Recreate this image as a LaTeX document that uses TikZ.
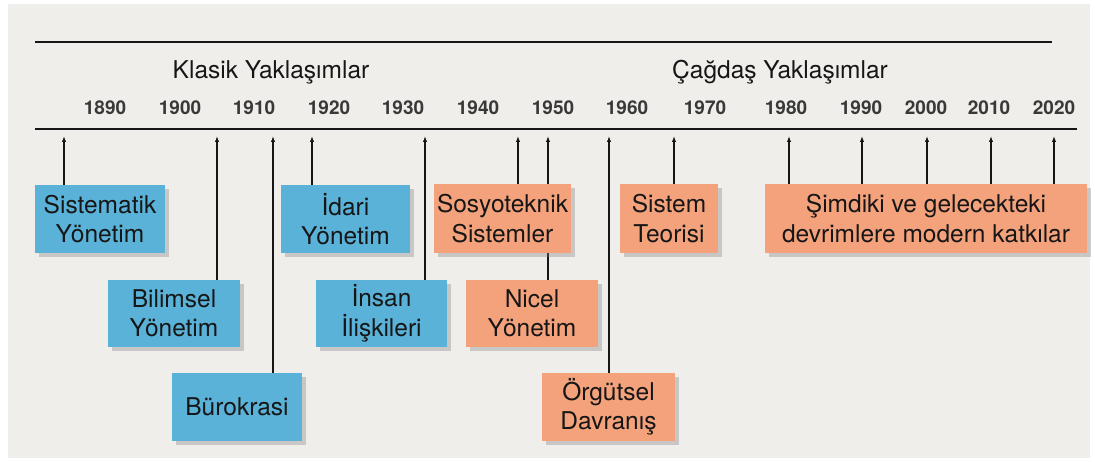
\documentclass[tikz,border=0pt]{standalone}
\usepackage{fontspec}
\setmainfont{TeX Gyre Heros}
\usetikzlibrary{arrows.meta,shadows,backgrounds}
\definecolor{panel}{RGB}{240,238,234}
\definecolor{klasik}{RGB}{90,178,216}
\definecolor{cagdas}{RGB}{244,162,124}
\definecolor{ink}{RGB}{22,22,22}
\tikzset{
	kutu/.style={inner sep=0pt, align=center, text=ink, font=\fontsize{24.5}{29.5}\selectfont,
		drop shadow={shadow xshift=4pt, shadow yshift=-4pt, opacity=0.35}},
	klasikkutu/.style={kutu, fill=klasik},
	cagdaskutu/.style={kutu, fill=cagdas},
	ok/.style={line width=1.6pt, draw=ink, -{Latex[length=6pt,width=4.5pt]}},
	yil/.style={text=ink!85, font=\bfseries\fontsize{19}{19}\selectfont},
	baslik/.style={text=ink, font=\fontsize{24.5}{24.5}\selectfont},
}

\begin{document}
\begin{tikzpicture}[x=1pt, y=-1pt]
		%%%%% START %%%%%
		\useasboundingbox (0, 0) rectangle (1095, 462);
		
		\draw[line width=2.6pt, color=ink] (35, 42) -- (1052, 42);
		\draw[line width=2.6pt, color=ink] (35, 129) -- (1077, 129);
		
		\node[baslik] (klasikbaslik) at (271, 72) {Klasik Yaklaşımlar};
		\node[baslik] (cagdasbaslik) at (780, 72) {Çağdaş Yaklaşımlar};
		
		\node[yil] (y1890) at (105, 108) {1890};
		\node[yil] (y1900) at (180, 108) {1900};
		\node[yil] (y1910) at (254, 108) {1910};
		\node[yil] (y1920) at (329, 108) {1920};
		\node[yil] (y1930) at (403, 108) {1930};
		\node[yil] (y1940) at (478, 108) {1940};
		\node[yil] (y1950) at (553, 108) {1950};
		\node[yil] (y1960) at (627, 108) {1960};
		\node[yil] (y1970) at (705, 108) {1970};
		\node[yil] (y1980) at (786, 108) {1980};
		\node[yil] (y1990) at (861, 108) {1990};
		\node[yil] (y2000) at (926, 108) {2000};
		\node[yil] (y2010) at (989, 108) {2010};
		\node[yil] (y2020) at (1054, 108) {2020};
		
		% arrow tips under the time line
		\coordinate (a1) at (64, 136);
		\coordinate (a2) at (217, 136);
		\coordinate (a3) at (273, 136);
		\coordinate (a4) at (312, 136);
		\coordinate (a5) at (425, 136);
		\coordinate (a6) at (518, 136);
		\coordinate (a7) at (548, 136);
		\coordinate (a8) at (609, 136);
		\coordinate (a9) at (674, 136);
		\coordinate (a10) at (789, 136);
		\coordinate (a11) at (862, 136);
		\coordinate (a12) at (927, 136);
		\coordinate (a13) at (991, 136);
		\coordinate (a14) at (1054, 136);
		
		\node[klasikkutu, minimum width=130, minimum height=68] (sistematik) at (100, 219) {Sistematik\\Yönetim};
		\node[klasikkutu, minimum width=132, minimum height=67] (bilimsel) at (174, 313.5) {Bilimsel\\Yönetim};
		\node[klasikkutu, minimum width=130, minimum height=68] (burokrasi) at (237, 407) {Bürokrasi};
		\node[klasikkutu, minimum width=129, minimum height=68] (idari) at (345.5, 219) {İdari\\Yönetim};
		\node[klasikkutu, minimum width=131, minimum height=67] (insan) at (381.5, 313.5) {İnsan\\İlişkileri};
		
		\node[cagdaskutu, minimum width=137, minimum height=69] (sosyoteknik) at (502.5, 218.5) {Sosyoteknik\\Sistemler};
		\node[cagdaskutu, minimum width=132, minimum height=67] (nicel) at (532, 313.5) {Nicel\\Yönetim};
		\node[cagdaskutu, minimum width=133, minimum height=68] (orgutsel) at (608.5, 407) {Örgütsel\\Davranış};
		\node[cagdaskutu, minimum width=98, minimum height=69] (sistem) at (669, 218.5) {Sistem\\Teorisi};
		\node[cagdaskutu, minimum width=322, minimum height=69] (simdiki) at (926, 218.5) {Şimdiki ve gelecekteki\\devrimlere modern katkılar};
		
		\begin{scope}[on background layer]
			\fill[white] (0, 0) rectangle (1095, 462);
			\fill[panel] (8, 4) rectangle (1090, 458);
			
			\draw[ok] (sistematik.north -| a1) -- (a1);
			\draw[ok] (bilimsel.north -| a2) -- (a2);
			\draw[ok] (burokrasi.north -| a3) -- (a3);
			\draw[ok] (idari.north -| a4) -- (a4);
			\draw[ok, line width=2.4pt] (insan.north -| a5) -- (a5);
			\draw[ok] (sosyoteknik.north -| a6) -- (a6);
			\draw[ok] (nicel.north -| a7) -- (a7);
			\draw[ok] (orgutsel.north -| a8) -- (a8);
			\draw[ok] (sistem.north -| a9) -- (a9);
			\draw[ok] (simdiki.north -| a10) -- (a10);
			\draw[ok] (simdiki.north -| a11) -- (a11);
			\draw[ok] (simdiki.north -| a12) -- (a12);
			\draw[ok] (simdiki.north -| a13) -- (a13);
			\draw[ok] (simdiki.north -| a14) -- (a14);
		\end{scope}
		
		%%%%% END %%%%%
	\end{tikzpicture}
\end{document}
